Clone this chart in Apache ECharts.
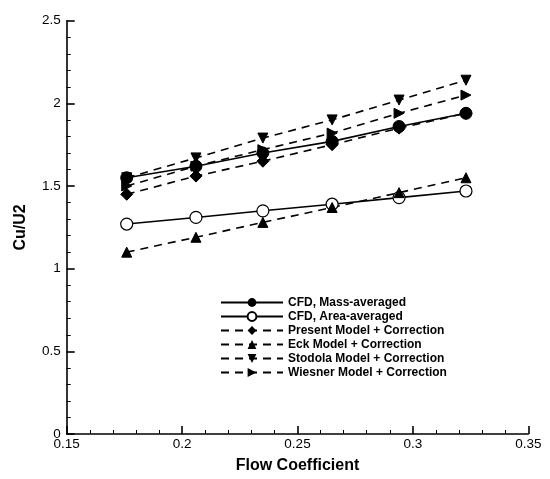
<!DOCTYPE html>
<html>
<head>
<meta charset="utf-8">
<script src="https://cdn.jsdelivr.net/npm/echarts@6/dist/echarts.min.js"></script>
<style>
  html, body { margin: 0; padding: 0; background: #fff; }
  #chart { width: 550px; height: 479px; }
</style>
</head>
<body>
<div id="chart"></div>
<script>
    // flow coefficient at each computed point
    const flowCoef = [0.176, 0.206, 0.235, 0.265, 0.294, 0.323];
    // Cu/U2 values
    const cfdMass = [1.55, 1.62, 1.70, 1.77, 1.86, 1.94];
    const cfdArea = [1.27, 1.31, 1.35, 1.39, 1.43, 1.47];
    const presentModel = [1.45, 1.56, 1.65, 1.75, 1.85, 1.94];
    const eckModel = [1.10, 1.19, 1.28, 1.37, 1.46, 1.55];
    const stodolaModel = [1.55, 1.67, 1.79, 1.90, 2.02, 2.14];
    const wiesnerModel = [1.50, 1.62, 1.72, 1.82, 1.94, 2.05];

    const font = 'Liberation Sans, Arial, sans-serif';

    function pairs(ys) {
        return flowCoef.map((x, i) => [x, ys[i]]);
    }

    function makeSeries(name, ys, conf) {
        return Object.assign({
            name: name,
            type: 'line',
            data: pairs(ys),
            color: '#000',
            symbolSize: 9,
            lineStyle: { color: '#000', width: 1.6, type: [8, 6] },
            itemStyle: { color: '#000', borderColor: '#000' },
            emphasis: { disabled: true },
            animation: false
        }, conf);
    }

    const chart = echarts.init(document.getElementById('chart'), null, { renderer: 'canvas' });
    chart.setOption({
        backgroundColor: '#FFFFFF',
        textStyle: { fontFamily: font },
        grid: { left: 66.7, right: 21.7, top: 20.7, bottom: 38.3 },
        legend: {
            orient: 'vertical',
            left: 215,
            top: 291,
            itemWidth: 62,
            itemHeight: 11,
            itemGap: 1,
            textStyle: { fontFamily: font, fontWeight: 'bold', fontSize: 12, lineHeight: 13, color: '#000' },
            data: ['CFD, Mass-averaged', 'CFD, Area-averaged', 'Present Model + Correction',
                'Eck Model + Correction', 'Stodola Model + Correction', 'Wiesner Model + Correction']
        },
        xAxis: {
            type: 'value',
            min: 0.15,
            max: 0.35,
            interval: 0.05,
            name: 'Flow Coefficient',
            nameLocation: 'middle',
            nameGap: 24,
            nameTextStyle: { fontFamily: font, fontWeight: 'bold', fontSize: 16, color: '#000' },
            axisLine: { lineStyle: { color: '#000', width: 1.6 } },
            axisTick: { inside: true, length: 8, lineStyle: { color: '#000', width: 1.6 } },
            minorTick: { show: true, splitNumber: 5, length: 4, lineStyle: { color: '#000' } },
            axisLabel: { color: '#000', fontSize: 13.5, margin: 3, formatter: v => +v.toFixed(2) + '' },
            splitLine: { show: false }
        },
        yAxis: {
            type: 'value',
            min: 0,
            max: 2.5,
            interval: 0.5,
            name: 'Cu/U2',
            nameLocation: 'middle',
            nameGap: 38,
            nameTextStyle: { fontFamily: font, fontWeight: 'bold', fontSize: 16, color: '#000' },
            axisLine: { lineStyle: { color: '#000', width: 1.6 } },
            axisTick: { inside: true, length: 8, lineStyle: { color: '#000', width: 1.6 } },
            minorTick: { show: true, splitNumber: 5, length: 4, lineStyle: { color: '#000' } },
            axisLabel: { color: '#000', fontSize: 13.5, margin: 6 },
            splitLine: { show: false }
        },
        series: [
            makeSeries('CFD, Mass-averaged', cfdMass, {
                symbol: 'circle', symbolSize: 12,
                lineStyle: { color: '#000', width: 1.6, type: 'solid' }
            }),
            makeSeries('CFD, Area-averaged', cfdArea, {
                symbol: 'circle', symbolSize: 12,
                lineStyle: { color: '#000', width: 1.6, type: 'solid' },
                itemStyle: { color: '#fff', borderColor: '#000', borderWidth: 1.2 }
            }),
            makeSeries('Present Model + Correction', presentModel, {
                symbol: 'diamond', symbolSize: 12
            }),
            makeSeries('Eck Model + Correction', eckModel, {
                symbol: 'triangle', symbolSize: 10
            }),
            makeSeries('Stodola Model + Correction', stodolaModel, {
                symbol: 'path://M0,0L10,0L5,9Z', symbolSize: 10
            }),
            makeSeries('Wiesner Model + Correction', wiesnerModel, {
                symbol: 'path://M0,0L9,5L0,10Z', symbolSize: 10
            })
        ]
    });
</script>
</body>
</html>
